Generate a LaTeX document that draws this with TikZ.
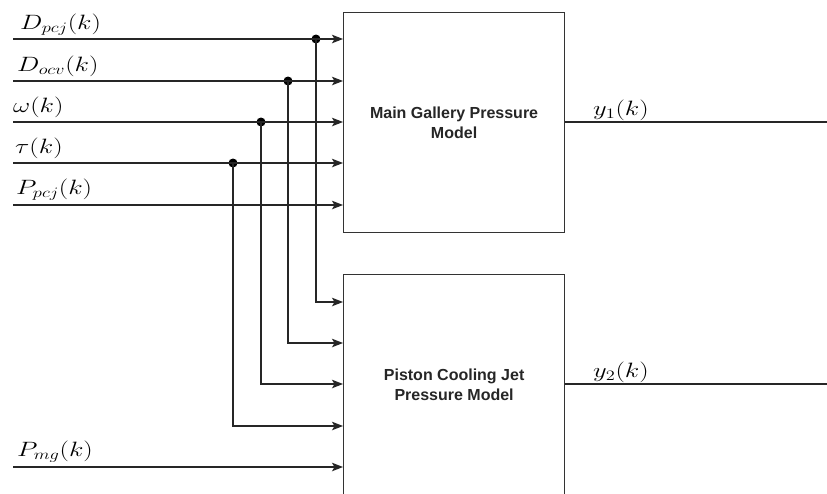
\documentclass[tikz,border=0pt]{standalone}
\usepackage{fontspec}
\setsansfont{Liberation Sans}
\usetikzlibrary{arrows.meta}
\newcommand{\wmath}[1]{\scalebox{1.28}[1]{$#1$}}
\begin{document}
\begin{tikzpicture}[x=1pt,y=-1pt,
  blk/.style={draw=black!80, line width=1.2pt, fill=white, inner sep=0pt,
    minimum width=221pt, minimum height=220pt, anchor=north west,
    font=\sffamily\bfseries\fontsize{16}{20}\selectfont, align=center, text=black!85},
  sig/.style={draw=black!85, line width=1.2pt, -{Stealth[length=11pt,width=8.5pt,inset=2.5pt]}},
  wire/.style={draw=black!85, line width=1.2pt},
  lab/.style={anchor=base west, inner sep=0pt, font=\fontsize{22}{26}\selectfont},
  jdot/.style={circle, fill=black, inner sep=0pt, minimum size=9pt}]
\clip (0,0) rectangle (827,493);
\fill[white] (0,0) rectangle (827,493);
% blocks
\node[blk] (mg) at (343,12) {Main Gallery Pressure\\Model};
\node[blk] (pc) at (343,274) {Piston Cooling Jet\\Pressure Model};
% input start points
\coordinate (i1) at (13,39);
\coordinate (i2) at (13,81);
\coordinate (i3) at (13,122);
\coordinate (i4) at (13,163);
\coordinate (i5) at (13,205);
\coordinate (i6) at (13,467);
% target heights on lower block
\coordinate (t1) at (0,302);
\coordinate (t2) at (0,343);
\coordinate (t3) at (0,384);
\coordinate (t4) at (0,426);
% junctions
\node[jdot] (d1) at (316,39) {};
\node[jdot] (d2) at (288,81) {};
\node[jdot] (d3) at (261,122) {};
\node[jdot] (d4) at (233,163) {};
% inputs to upper block
\draw[sig] (i1) -- (mg.west |- i1);
\draw[sig] (i2) -- (mg.west |- i2);
\draw[sig] (i3) -- (mg.west |- i3);
\draw[sig] (i4) -- (mg.west |- i4);
\draw[sig] (i5) -- (mg.west |- i5);
% branches to lower block
\draw[sig] (d1.center) |- (pc.west |- t1);
\draw[sig] (d2.center) |- (pc.west |- t2);
\draw[sig] (d3.center) |- (pc.west |- t3);
\draw[sig] (d4.center) |- (pc.west |- t4);
\draw[sig] (i6) -- (pc.west |- i6);
% outputs
\coordinate (o1) at (827,122);
\coordinate (o2) at (827,384);
\draw[wire] (mg.east |- o1) -- (o1);
\draw[wire] (pc.east |- o2) -- (o2);
% labels
\node[lab] (l1) at (20,29) {\wmath{D_{pcj}(k)}};
\node[lab] (l2) at (17,71) {\wmath{D_{ocv}(k)}};
\node[lab] (l3) at (13,112) {\wmath{\omega(k)}};
\node[lab] (l4) at (15,153) {\wmath{\tau(k)}};
\node[lab] (l5) at (16,194) {\wmath{P_{pcj}(k)}};
\node[lab] (l6) at (17,456) {\wmath{P_{mg}(k)}};
\node[lab] (l7) at (593,115) {\wmath{y_1(k)}};
\node[lab] (l8) at (593,377) {\wmath{y_2(k)}};
\end{tikzpicture}
\end{document}
